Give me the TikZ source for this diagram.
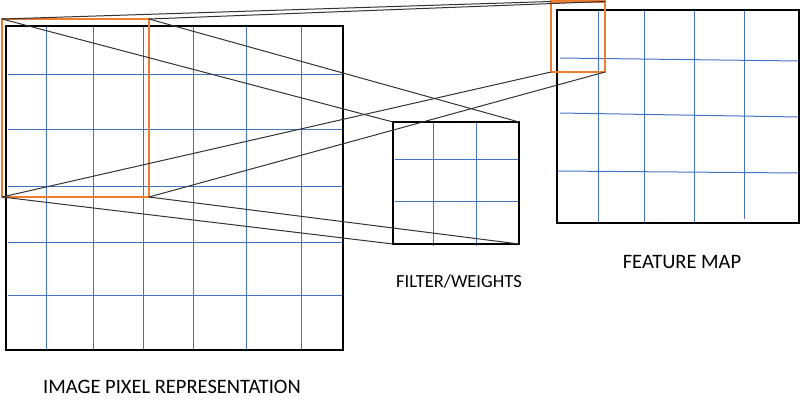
\documentclass[tikz,border=0pt]{standalone}
\usepackage{fontspec}
\setmainfont{Carlito}
\definecolor{gridblue}{HTML}{4472C4}
\definecolor{winorange}{HTML}{ED7D31}

\begin{document}
\begin{tikzpicture}[x=1pt,y=-1pt,
    box/.style={draw=black,line width=2.8pt},
    grid/.style={draw=gridblue,line width=1pt},
    window/.style={draw=winorange,line width=2.4pt},
    ray/.style={draw=black!80,line width=1pt},
    caption/.style={anchor=base,inner sep=0pt,font=\fontsize{20.5}{24}\selectfont}]
	\useasboundingbox (0,0) rectangle (800,420);
	% the input image
	\foreach \x in {46,93,143,193,246,301}
		\draw[grid] (\x,26) -- (\x,350);
	\foreach \y in {74,129,186,242,295}
		\draw[grid] (8,\y) -- (342,\y);
	\draw[box] (6,26) rectangle (343,350);
	% the filter
	\foreach \x in {433,476}
		\draw[grid] (\x,122) -- (\x,246);
	\foreach \y in {159,201}
		\draw[grid] (395,\y) -- (518,\y);
	\draw[box] (393,122) coordinate (fNW) rectangle (519,244) coordinate (fSE);
	\coordinate (fNE) at (519,122);
	\coordinate (fSW) at (393,244);
	% the feature map
	\foreach \x/\e in {598/223,644/223,694/223,744/219}
		\draw[grid] (\x,10) -- (\x,\e);
	\draw[grid] (560,58) -- (799,61);
	\draw[grid] (560,113) -- (799,117);
	\draw[grid] (557,171) -- (799,173);
	\draw[box] (557,10) rectangle (799,223);
	% the windows
	\draw[window] (2,19) coordinate (iNW) rectangle (149,197) coordinate (iSE);
	\coordinate (iNE) at (149,19);
	\coordinate (iSW) at (2,197);
	\draw[window] (551,1.5) coordinate (mNW) rectangle (605,72) coordinate (mSE);
	\coordinate (mNE) at (605,1.5);
	\coordinate (mSW) at (551,72);
	% rays from the image window
	\draw[ray] (iNW) -- (mNW);
	\draw[ray] (iNE) -- (mNE);
	\draw[ray] (iNW) -- (fNW);
	\draw[ray] (iNE) -- (fNE);
	\draw[ray] (iSW) -- (mSW);
	\draw[ray] (iSE) -- (mSE);
	\draw[ray] (iSW) -- (fSW);
	\draw[ray] (iSE) -- (fSE);
	% captions
	\node[caption] (imgcap) at (172,393) {IMAGE PIXEL REPRESENTATION};
	\node[caption,font=\fontsize{18.5}{22}\selectfont] (filtcap) at (459,287) {FILTER/WEIGHTS};
	\node[caption] (mapcap) at (682,268) {FEATURE MAP};
\end{tikzpicture}
\end{document}
